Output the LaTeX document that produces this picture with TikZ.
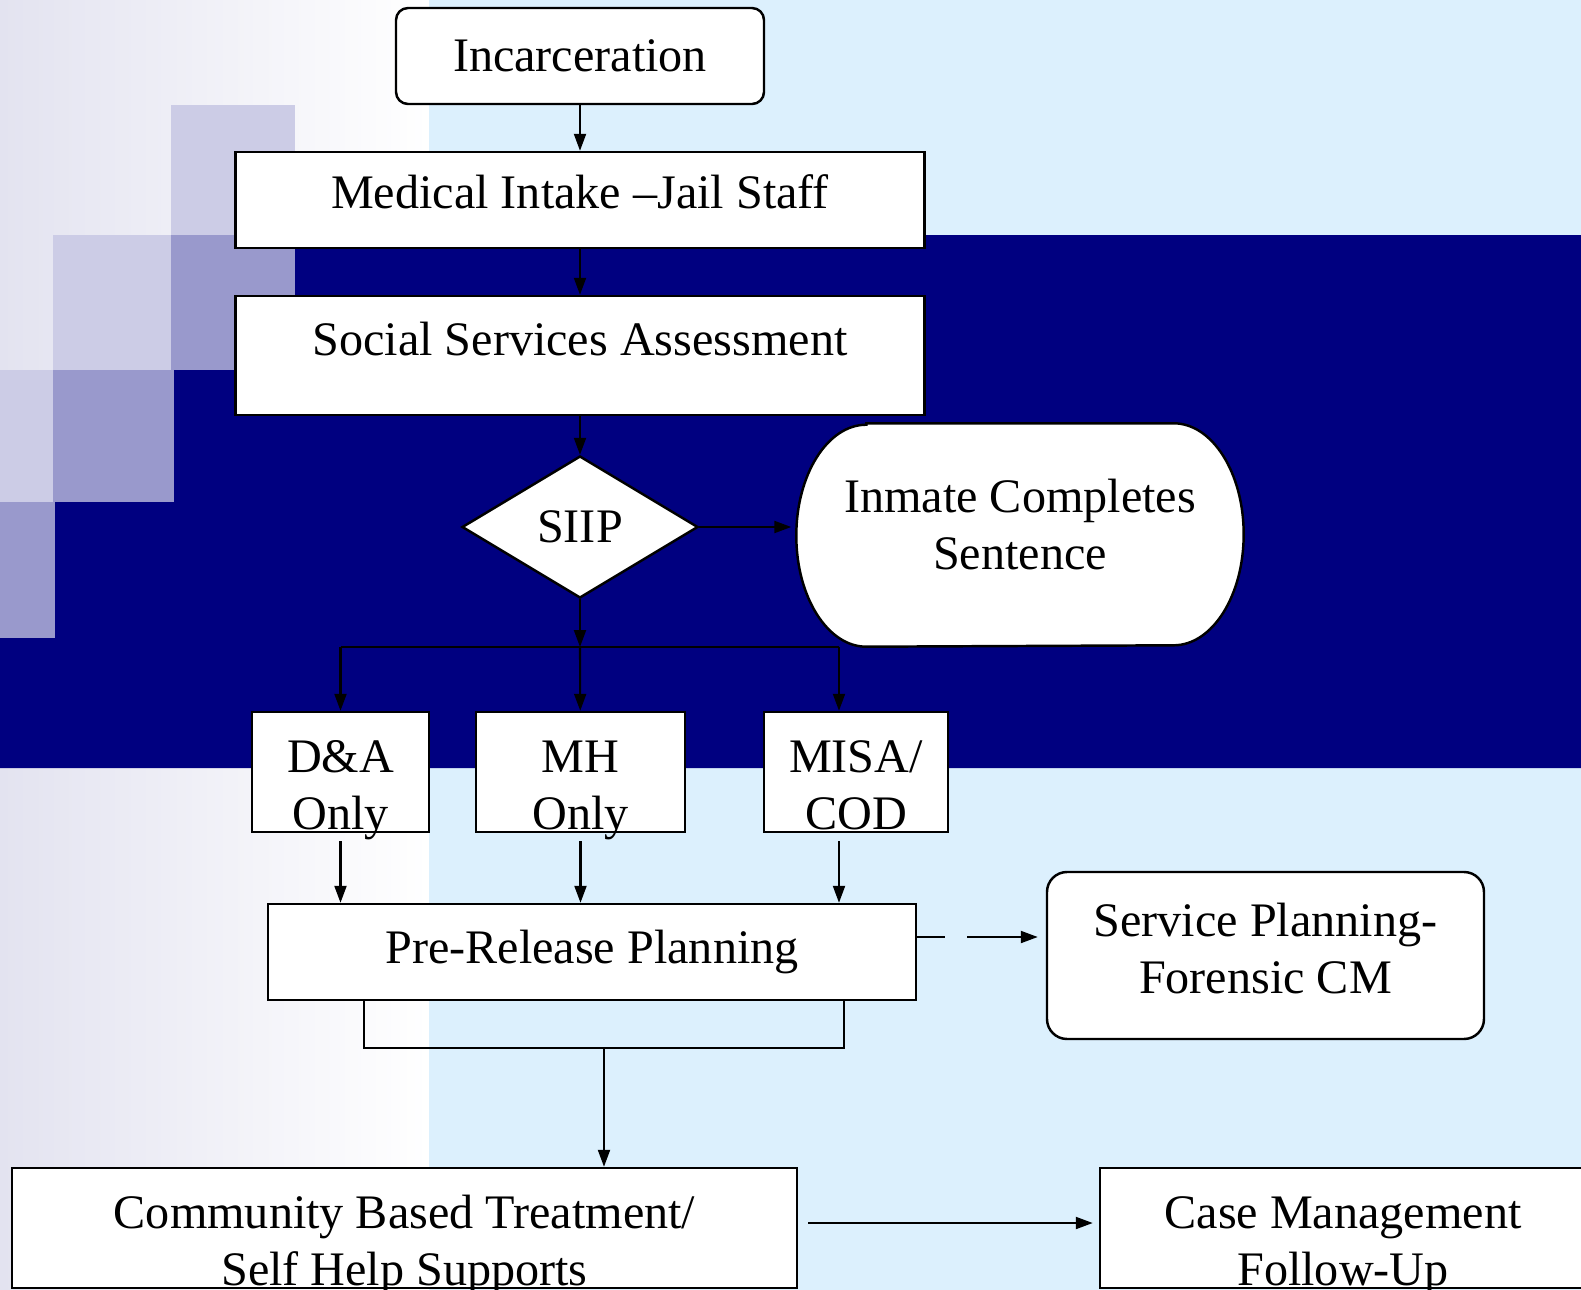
\documentclass[tikz,border=0pt]{standalone}
\usepackage{fontspec}
\setmainfont{Liberation Serif}
\usepackage{xcolor}
\usepackage{tikz}
\usetikzlibrary{shapes.geometric,arrows.meta,backgrounds}

\definecolor{navyband}{HTML}{000080}
\definecolor{skyback}{HTML}{DCF0FD}
\definecolor{lavback}{HTML}{E3E3F0}
\definecolor{sqlight}{HTML}{CCCCE6}
\definecolor{sqmid}{HTML}{9999CC}

\begin{document}
\begin{tikzpicture}[
		>={Triangle[length=0.17cm,width=0.12cm]},
		every node/.style={font=\fontsize{13.7}{16.2}\selectfont},
		box/.style={draw,fill=white,line width=0.7pt,inner sep=0pt,align=center},
		twoline/.style={text height=1.17cm,text depth=0.03cm},
		line/.style={line width=0.6pt}
	]
			\useasboundingbox (0,0) rectangle (15.81,-12.90);
			
			\node[box,rounded corners=0.12cm,minimum width=3.68cm,minimum height=0.96cm] (inc) at (5.80,-0.56) {Incarceration};
			\node[box,text height=0.33cm,text depth=0.16cm,minimum width=6.89cm,minimum height=0.96cm] (med) at (5.80,-2.00) {Medical Intake –Jail Staff};
			\node[box,text height=0.3cm,text depth=0.3cm,minimum width=6.89cm,minimum height=1.19cm] (ssa) at (5.80,-3.555) {Social Services Assessment};
			\node[box,diamond,aspect=1.66,minimum width=2.36cm,minimum height=1.42cm] (siip) at (5.80,-5.27) {SIIP};
			\node[align=center,inner sep=0pt,minimum width=4.46cm,minimum height=2.22cm,text height=1.0cm,text depth=0.31cm] (ics) at (10.20,-5.35) {Inmate Completes\\Sentence};
			\node[box,twoline,minimum width=1.77cm,minimum height=1.20cm] (da) at (3.405,-7.72) {D\&A\\Only};
			\node[box,twoline,minimum width=2.09cm,minimum height=1.20cm] (mh) at (5.805,-7.72) {MH\\Only};
			\node[box,twoline,minimum width=1.84cm,minimum height=1.20cm] (misa) at (8.56,-7.72) {MISA/\\COD};
			\node[box,minimum width=6.48cm,minimum height=0.96cm] (prp) at (5.92,-9.52) {Pre-Release Planning};
			\node[box,rounded corners=0.2cm,minimum width=4.37cm,minimum height=1.67cm,text height=1.0cm,text depth=0.244cm] (sp) at (12.655,-9.555) {Service Planning-\\Forensic CM};
			\node[box,twoline,minimum width=7.85cm,minimum height=1.20cm] (cbt) at (4.045,-12.28) {Community Based Treatment/\\Self Help Supports};
			\node[box,twoline,minimum width=4.86cm,minimum height=1.20cm] (cm) at (13.43,-12.28) {Case Management\\Follow-Up};
			
			\begin{scope}[on background layer]
				\shade[left color=lavback,right color=white] (0,0) rectangle (4.29,-12.90);
				\fill[skyback] (4.29,0) rectangle (15.81,-12.90);
				\fill[navyband] (2.95,-2.35) -- (15.81,-2.35) -- (15.81,-7.68) -- (0,-7.68) -- (0,-6.38) -- (0.55,-6.38) -- (0.55,-5.02) -- (1.74,-5.02) -- (1.74,-3.70) -- (2.95,-3.70) -- cycle;
				\fill[sqlight] (1.71,-1.045) rectangle (2.95,-2.35);
				\fill[sqlight] (0.53,-2.35) rectangle (1.71,-3.70);
				\fill[sqmid] (1.71,-2.35) rectangle (2.95,-3.70);
				\fill[sqlight] (0,-3.70) rectangle (0.53,-5.02);
				\fill[sqmid] (0.53,-3.70) rectangle (1.74,-5.02);
				\fill[sqmid] (0,-5.02) rectangle (0.55,-6.38);
				\draw[fill=white,line width=0.7pt] ([xshift=0.7cm]ics.north west) -- ([xshift=-0.7cm]ics.north east)
					arc[start angle=90,end angle=-90,x radius=0.7cm,y radius=1.11cm]
					-- ([xshift=0.7cm]ics.south west)
					arc[start angle=270,end angle=90,x radius=0.7cm,y radius=1.11cm] -- cycle;
			\end{scope}
			
			\coordinate (fork) at (5.80,-6.47);
			\coordinate (forkl) at (3.405,-6.47);
			\coordinate (forkr) at (8.39,-6.47);
			\coordinate (join) at (6.04,-10.48);
			
			\draw[line,->] (inc) -- (med);
			\draw[line,->] (med) -- (ssa);
			\draw[line,->] (ssa) -- (siip);
			\draw[line,->,shorten >=0.05cm] (siip.east) -- (siip.east -| ics.west);
			\draw[line,->] (siip) -- (fork);
			\draw[line] (forkl) -- (forkr);
			\draw[line,->] (forkl) -- (da);
			\draw[line,->] (fork) -- (mh);
			\draw[line,->] (forkr) -- (forkr |- misa.north);
			\draw[line,->] ([yshift=-0.08cm]da.south) -- (da.south |- prp.north);
			\draw[line,->] ([yshift=-0.08cm]mh.south) -- (mh.south |- prp.north);
			\draw[line,->] ([xshift=-0.17cm,yshift=-0.08cm]misa.south) -- ([xshift=-0.17cm]misa.south |- prp.north);
			\draw[line,->,dash pattern=on 0.28cm off 0.22cm on 2cm,shorten >=0.08cm] ([yshift=0.15cm]prp.east) -- ([yshift=0.15cm]prp.east -| sp.west);
			\draw[line] ([xshift=-2.28cm]prp.south) |- (join) -| ([xshift=2.52cm]prp.south);
			\draw[line,->] (join) -- (join |- cbt.north);
			\draw[line,->] ([xshift=0.10cm,yshift=0.05cm]cbt.east) -- ([xshift=-0.06cm,yshift=0.05cm]cbt.east -| cm.west);
		\end{tikzpicture}
\end{document}
